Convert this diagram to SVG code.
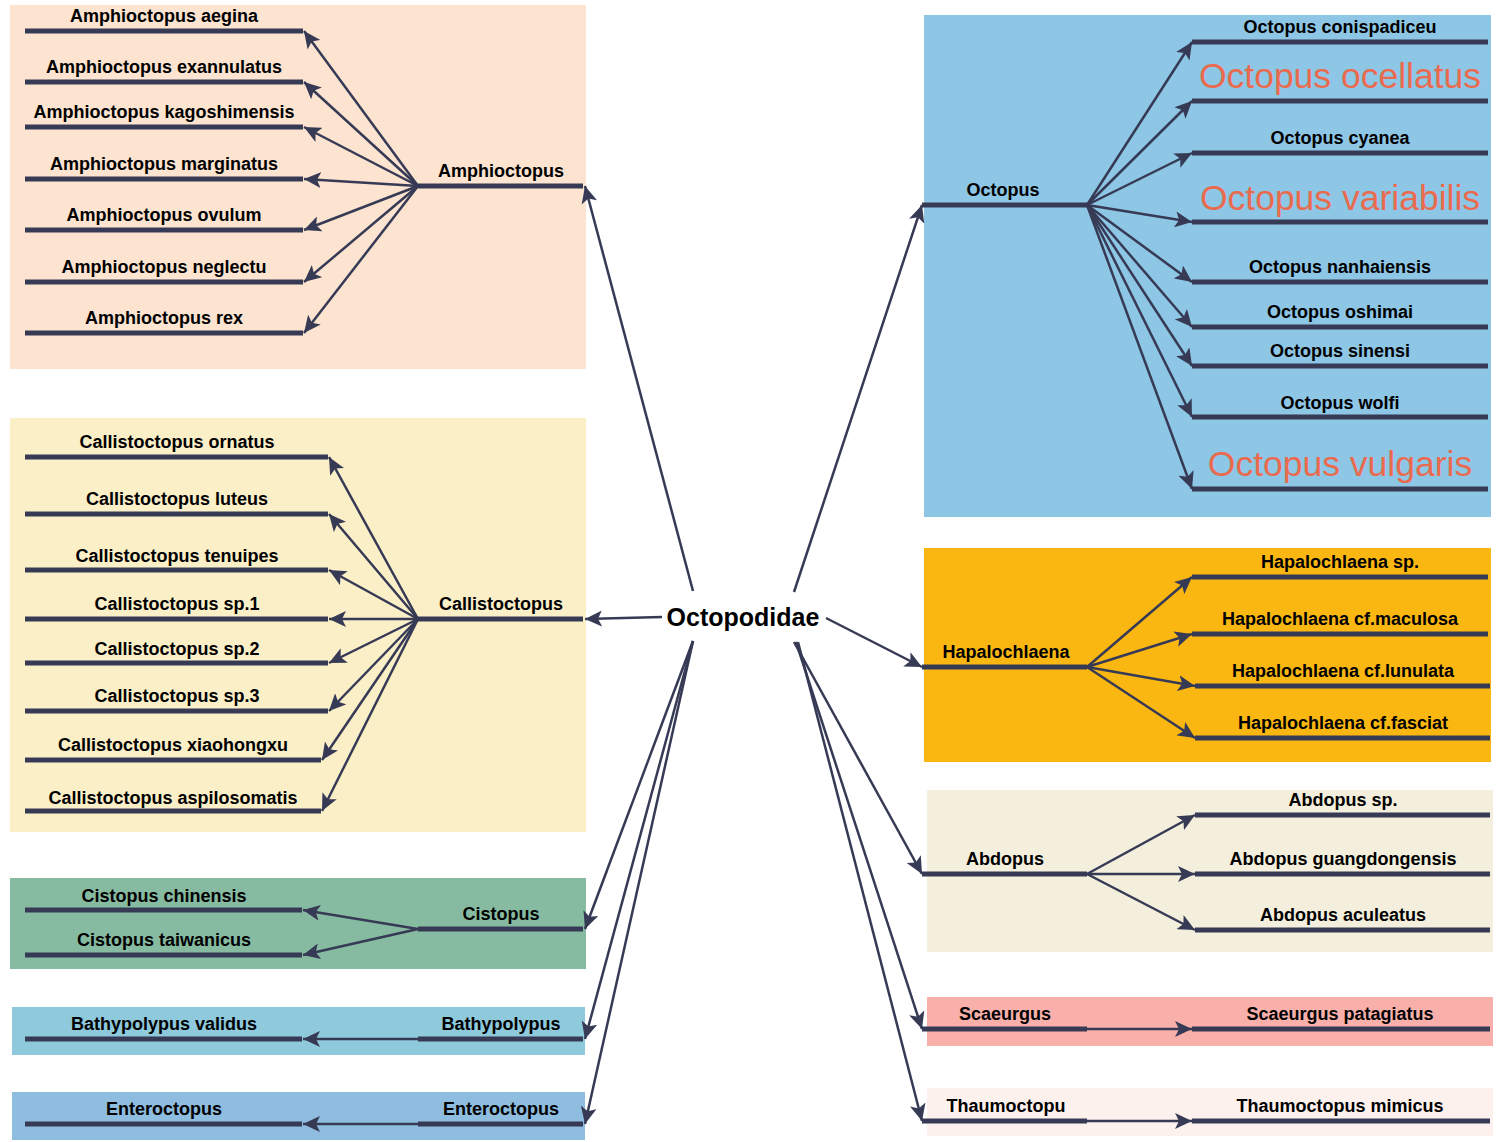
<svg xmlns="http://www.w3.org/2000/svg" width="1500" height="1142" viewBox="0 0 1500 1142">
<defs>
<marker id="ah" markerUnits="userSpaceOnUse" markerWidth="18" markerHeight="16" refX="17" refY="8" orient="auto">
<path d="M0,0 L17,8 L0,16 L4,8 Z" fill="#363a55"/>
</marker>
<style>
.bar{stroke:#363a55;stroke-width:5;fill:none}
.ln{stroke:#363a55;stroke-width:2.5;fill:none;marker-end:url(#ah)}
text{font-family:"Liberation Sans",Arial,sans-serif;font-weight:bold;font-size:18px;fill:#000;text-anchor:middle}
.red{fill:#ea6a4e;font-weight:normal;font-size:35.5px}
.root{font-size:25px}
</style>
</defs>
<rect width="1500" height="1142" fill="#fff"/>

<g id="bg">
<rect x="10" y="5" width="576" height="364" fill="#fce4d0"/>
<rect x="10" y="418" width="576" height="414" fill="#fbefc8"/>
<rect x="10" y="878" width="576" height="91" fill="#87bba1"/>
<rect x="12" y="1007" width="573" height="48" fill="#8ec9dc"/>
<rect x="12" y="1092" width="573" height="48" fill="#8ebde0"/>
<rect x="924" y="15" width="567" height="502" fill="#8ec6e6"/>
<rect x="924" y="548" width="567" height="214" fill="#fbb711"/>
<rect x="927" y="790" width="566" height="162" fill="#f3efdc"/>
<rect x="927" y="997" width="566" height="49" fill="#f9b0ab"/>
<rect x="927" y="1088" width="566" height="48" fill="#fdf1ee"/>
</g>

<g id="root"><text class="root" x="743" y="626">Octopodidae</text></g>

<g id="amphioctopus">
<path class="bar" d="M418,186H583"/>
<text x="501" y="177">Amphioctopus</text>
<path class="bar" d="M25,31H303M25,82H303M25,127H303M25,179H303M25,230H303M25,282H303M25,333H303"/>
<text x="164" y="22">Amphioctopus aegina</text>
<text x="164" y="73">Amphioctopus exannulatus</text>
<text x="164" y="118">Amphioctopus kagoshimensis</text>
<text x="164" y="170">Amphioctopus marginatus</text>
<text x="164" y="221">Amphioctopus ovulum</text>
<text x="164" y="273">Amphioctopus neglectu</text>
<text x="164" y="324">Amphioctopus rex</text>
</g>

<g id="callistoctopus">
<path class="bar" d="M418,619H583"/>
<text x="501" y="610">Callistoctopus</text>
<path class="bar" d="M25,457H328M25,514H328M25,570H328M25,619H328M25,663H328M25,711H328M25,760H321M25,811H321"/>
<text x="177" y="448">Callistoctopus ornatus</text>
<text x="177" y="505">Callistoctopus luteus</text>
<text x="177" y="562">Callistoctopus tenuipes</text>
<text x="177" y="610">Callistoctopus sp.1</text>
<text x="177" y="655">Callistoctopus sp.2</text>
<text x="177" y="702">Callistoctopus sp.3</text>
<text x="173" y="751">Callistoctopus xiaohongxu</text>
<text x="173" y="804">Callistoctopus aspilosomatis</text>
</g>

<g id="cistopus">
<path class="bar" d="M418,929H583M25,910H302M25,955H302"/>
<text x="501" y="920">Cistopus</text>
<text x="164" y="902">Cistopus chinensis</text>
<text x="164" y="946">Cistopus taiwanicus</text>
</g>

<g id="bathypolypus">
<path class="bar" d="M418,1039H583M25,1039H302"/>
<text x="501" y="1030">Bathypolypus</text>
<text x="164" y="1030">Bathypolypus validus</text>
</g>

<g id="enteroctopus">
<path class="bar" d="M418,1124H583M25,1124H302"/>
<text x="501" y="1115">Enteroctopus</text>
<text x="164" y="1115">Enteroctopus</text>
</g>

<g id="octopus">
<path class="bar" d="M922,205H1087"/>
<text x="1003" y="196">Octopus</text>
<path class="bar" d="M1192,42H1488M1192,101H1488M1192,153H1488M1192,222H1488M1192,282H1488M1192,327H1488M1192,366H1488M1192,417H1488M1192,489H1488"/>
<text x="1340" y="33">Octopus conispadiceu</text>
<text class="red" x="1340" y="88">Octopus ocellatus</text>
<text x="1340" y="144">Octopus cyanea</text>
<text class="red" x="1340" y="210">Octopus variabilis</text>
<text x="1340" y="273">Octopus nanhaiensis</text>
<text x="1340" y="318">Octopus oshimai</text>
<text x="1340" y="357">Octopus sinensi</text>
<text x="1340" y="409">Octopus wolfi</text>
<text class="red" x="1340" y="476">Octopus vulgaris</text>
</g>

<g id="hapalochlaena">
<path class="bar" d="M922,667H1087M1192,577H1488M1192,634H1488M1195,686H1490M1195,738H1490"/>
<text x="1006" y="658">Hapalochlaena</text>
<text x="1340" y="568">Hapalochlaena sp.</text>
<text x="1340" y="625">Hapalochlaena cf.maculosa</text>
<text x="1343" y="677">Hapalochlaena cf.lunulata</text>
<text x="1343" y="729">Hapalochlaena cf.fasciat</text>
</g>

<g id="abdopus">
<path class="bar" d="M922,874H1087M1195,815H1490M1195,874H1490M1195,930H1490"/>
<text x="1005" y="865">Abdopus</text>
<text x="1343" y="806">Abdopus sp.</text>
<text x="1343" y="865">Abdopus guangdongensis</text>
<text x="1343" y="921">Abdopus aculeatus</text>
</g>

<g id="scaeurgus">
<path class="bar" d="M922,1029H1087M1192,1029H1490"/>
<text x="1005" y="1020">Scaeurgus</text>
<text x="1340" y="1020">Scaeurgus patagiatus</text>
</g>

<g id="thaumoctopus">
<path class="bar" d="M922,1121H1087M1192,1121H1490"/>
<text x="1006" y="1112">Thaumoctopu</text>
<text x="1340" y="1112">Thaumoctopus mimicus</text>
</g>

<g id="connectors">
<line class="ln" x1="693" y1="591" x2="585" y2="186"/>
<line class="ln" x1="662" y1="617" x2="585" y2="619"/>
<line class="ln" x1="693" y1="641" x2="585" y2="929"/>
<line class="ln" x1="693" y1="641" x2="585" y2="1039"/>
<line class="ln" x1="693" y1="641" x2="585" y2="1124"/>
<line class="ln" x1="794" y1="592" x2="922" y2="205"/>
<line class="ln" x1="826" y1="618" x2="922" y2="667"/>
<line class="ln" x1="794" y1="642" x2="922" y2="874"/>
<line class="ln" x1="796" y1="642" x2="922" y2="1029"/>
<line class="ln" x1="798" y1="642" x2="922" y2="1121"/>

<line class="ln" x1="418" y1="186" x2="304" y2="31"/>
<line class="ln" x1="418" y1="186" x2="304" y2="82"/>
<line class="ln" x1="418" y1="186" x2="304" y2="127"/>
<line class="ln" x1="418" y1="186" x2="304" y2="179"/>
<line class="ln" x1="418" y1="186" x2="304" y2="230"/>
<line class="ln" x1="418" y1="186" x2="304" y2="282"/>
<line class="ln" x1="418" y1="186" x2="304" y2="333"/>

<line class="ln" x1="418" y1="619" x2="329" y2="457"/>
<line class="ln" x1="418" y1="619" x2="329" y2="514"/>
<line class="ln" x1="418" y1="619" x2="329" y2="570"/>
<line class="ln" x1="418" y1="619" x2="329" y2="619"/>
<line class="ln" x1="418" y1="619" x2="329" y2="663"/>
<line class="ln" x1="418" y1="619" x2="329" y2="711"/>
<line class="ln" x1="418" y1="619" x2="322" y2="760"/>
<line class="ln" x1="418" y1="619" x2="322" y2="811"/>

<line class="ln" x1="418" y1="929" x2="303" y2="910"/>
<line class="ln" x1="418" y1="929" x2="303" y2="955"/>
<line class="ln" x1="418" y1="1039" x2="303" y2="1039"/>
<line class="ln" x1="418" y1="1124" x2="303" y2="1124"/>

<line class="ln" x1="1087" y1="205" x2="1192" y2="42"/>
<line class="ln" x1="1087" y1="205" x2="1192" y2="101"/>
<line class="ln" x1="1087" y1="205" x2="1192" y2="153"/>
<line class="ln" x1="1087" y1="205" x2="1192" y2="222"/>
<line class="ln" x1="1087" y1="205" x2="1192" y2="282"/>
<line class="ln" x1="1087" y1="205" x2="1192" y2="327"/>
<line class="ln" x1="1087" y1="205" x2="1192" y2="366"/>
<line class="ln" x1="1087" y1="205" x2="1192" y2="417"/>
<line class="ln" x1="1087" y1="205" x2="1192" y2="489"/>

<line class="ln" x1="1087" y1="667" x2="1192" y2="577"/>
<line class="ln" x1="1087" y1="667" x2="1192" y2="634"/>
<line class="ln" x1="1087" y1="667" x2="1195" y2="686"/>
<line class="ln" x1="1087" y1="667" x2="1195" y2="738"/>

<line class="ln" x1="1087" y1="874" x2="1195" y2="815"/>
<line class="ln" x1="1087" y1="874" x2="1195" y2="874"/>
<line class="ln" x1="1087" y1="874" x2="1195" y2="930"/>

<line class="ln" x1="1087" y1="1029" x2="1192" y2="1029"/>
<line class="ln" x1="1087" y1="1121" x2="1192" y2="1121"/>
</g>
</svg>
